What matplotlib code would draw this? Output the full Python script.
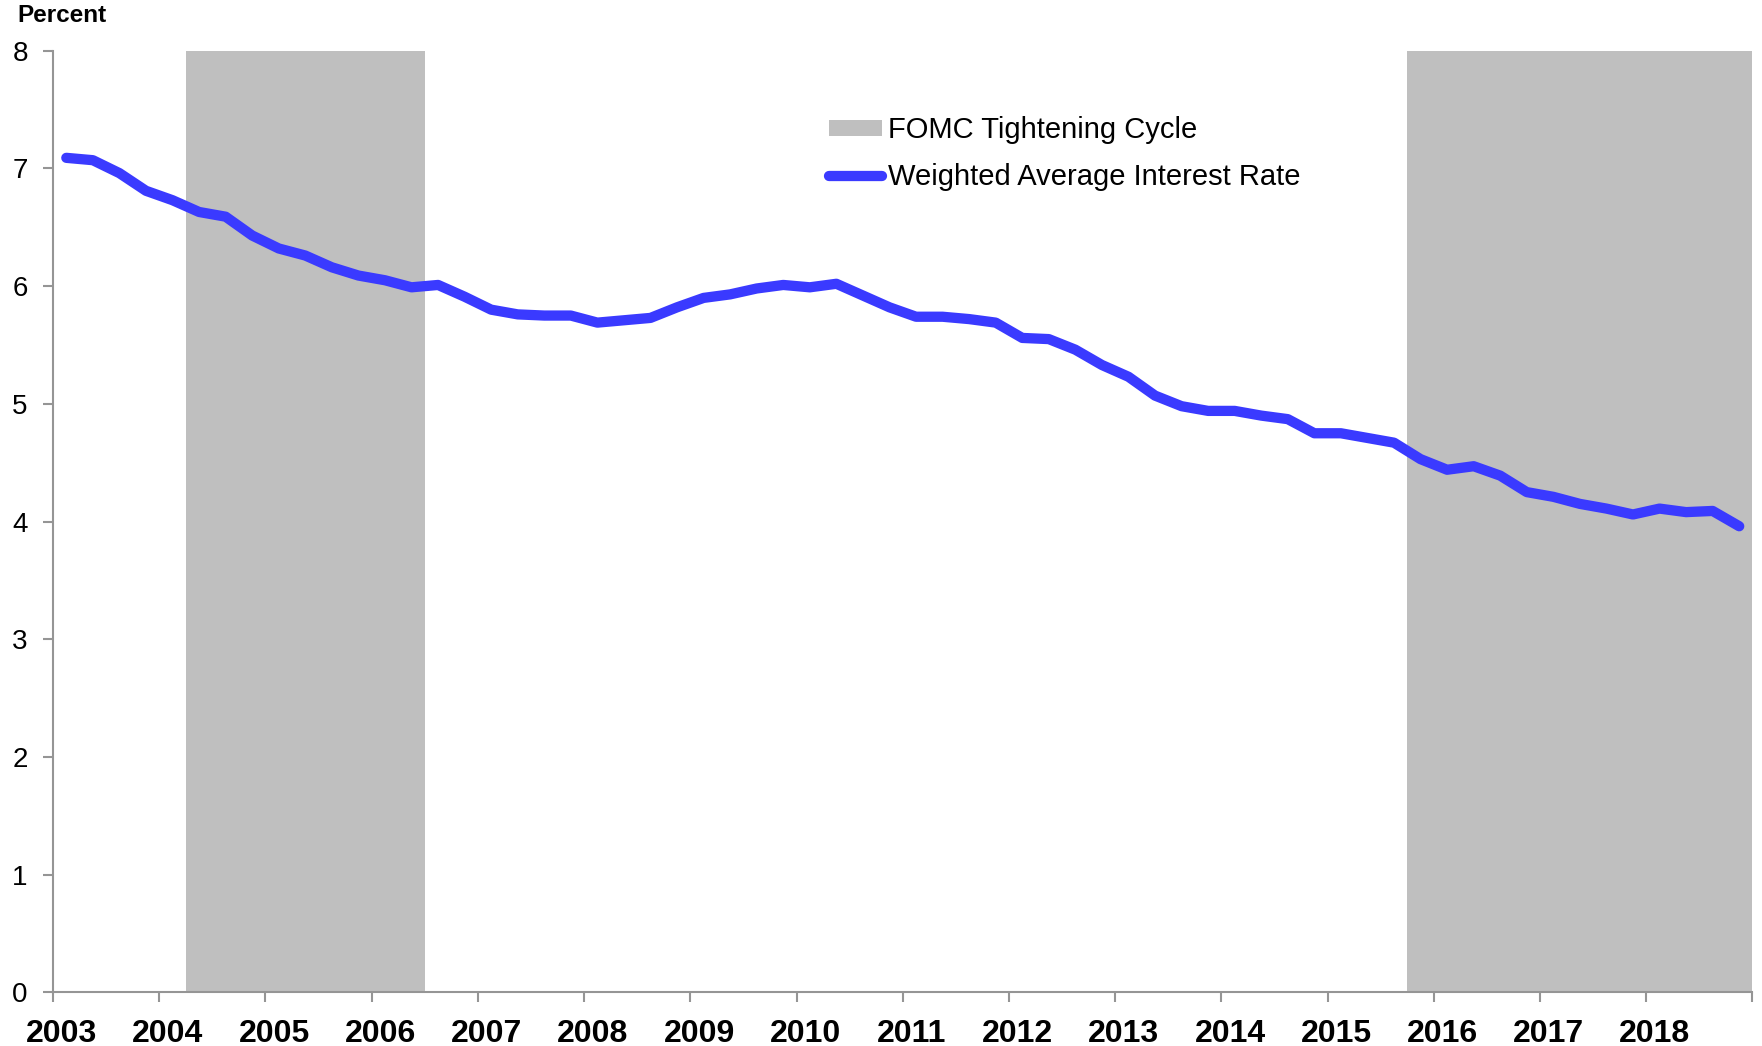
import numpy as np
import pandas as pd
import matplotlib
matplotlib.use("Agg")
import matplotlib.pyplot as plt
from matplotlib.patches import Patch
from matplotlib.lines import Line2D

plt.rcParams['font.family'] = ['Liberation Sans', 'DejaVu Sans']

# quarterly weighted average interest rate, 2003Q1 - 2018Q4 (percent)
quarters = pd.period_range("2003Q1", "2018Q4", freq="Q")
rate = [7.09, 7.07, 6.96, 6.81, 6.73, 6.63, 6.59, 6.43, 6.32, 6.26, 6.16, 6.09,
        6.05, 5.99, 6.01, 5.91, 5.80, 5.76, 5.75, 5.75, 5.69, 5.71, 5.73, 5.82,
        5.90, 5.93, 5.98, 6.01, 5.99, 6.02, 5.92, 5.82, 5.74, 5.74, 5.72, 5.69,
        5.56, 5.55, 5.46, 5.33, 5.23, 5.07, 4.98, 4.94, 4.94, 4.90, 4.87, 4.75,
        4.75, 4.71, 4.67, 4.53, 4.44, 4.47, 4.39, 4.25, 4.21, 4.15, 4.11, 4.06,
        4.11, 4.08, 4.09, 3.96]

# FOMC tightening cycles (decimal years)
tight_start = [2004.25, 2015.75]
tight_end = [2006.5, 2019.0]

years = list(range(2003, 2020))
year_labels = [str(y) for y in range(2003, 2019)]

# mid-quarter position in decimal years
t = [q.year + (q.quarter - 0.5) / 4 for q in quarters]

fig = plt.figure(figsize=(17.62, 10.46), dpi=100)
ax = fig.add_axes([0.0301, 0.0513, 0.9645, 0.9002])

for s, e in zip(tight_start, tight_end):
    ax.axvspan(s, e, color="#bfbfbf", lw=0, zorder=1)

ax.plot(t, rate, color="#3a3aff", lw=7.4, solid_capstyle="round",
        solid_joinstyle="round", zorder=3)

ax.set_xlim(2003, 2019)
ax.set_ylim(0, 8)

ax.set_xticks(years)
ax.set_xticklabels([])
ax.set_xticks([y + 0.082 for y in range(2003, 2019)], minor=True)
ax.set_xticklabels(year_labels, minor=True, fontsize=23, fontweight="bold")
ax.tick_params(axis="x", which="major", direction="out", length=7.2, width=1.5,
               color="#959595")
ax.tick_params(axis="x", which="minor", length=0, pad=19)

ax.set_yticks(range(0, 9))
ax.tick_params(axis="y", direction="out", length=7.2, width=1.5,
               color="#959595", labelsize=20, pad=11)

for side in ["top", "right"]:
    ax.spines[side].set_visible(False)
for side in ["left", "bottom"]:
    ax.spines[side].set_color("#959595")
    ax.spines[side].set_linewidth(1.5)

fig.text(0.0097, 1 - 15 / 1046, "Percent", fontsize=17.5, fontweight="bold",
         ha="left", va="center")

handles = [Patch(facecolor="#bfbfbf", edgecolor="none", label="FOMC Tightening Cycle"),
           Line2D([], [], color="#3a3aff", lw=7.4, solid_capstyle="round",
                  label="Weighted Average Interest Rate")]
ax.legend(handles=handles, loc="upper left", frameon=False, fontsize=21,
          bbox_to_anchor=(829 / 1762, 1 - 116 / 1046), bbox_transform=fig.transFigure,
          borderaxespad=0, borderpad=0, handlelength=1.82, handleheight=0.48,
          handletextpad=0.2, labelspacing=0.66)

fig.savefig("out.png", dpi=100)
